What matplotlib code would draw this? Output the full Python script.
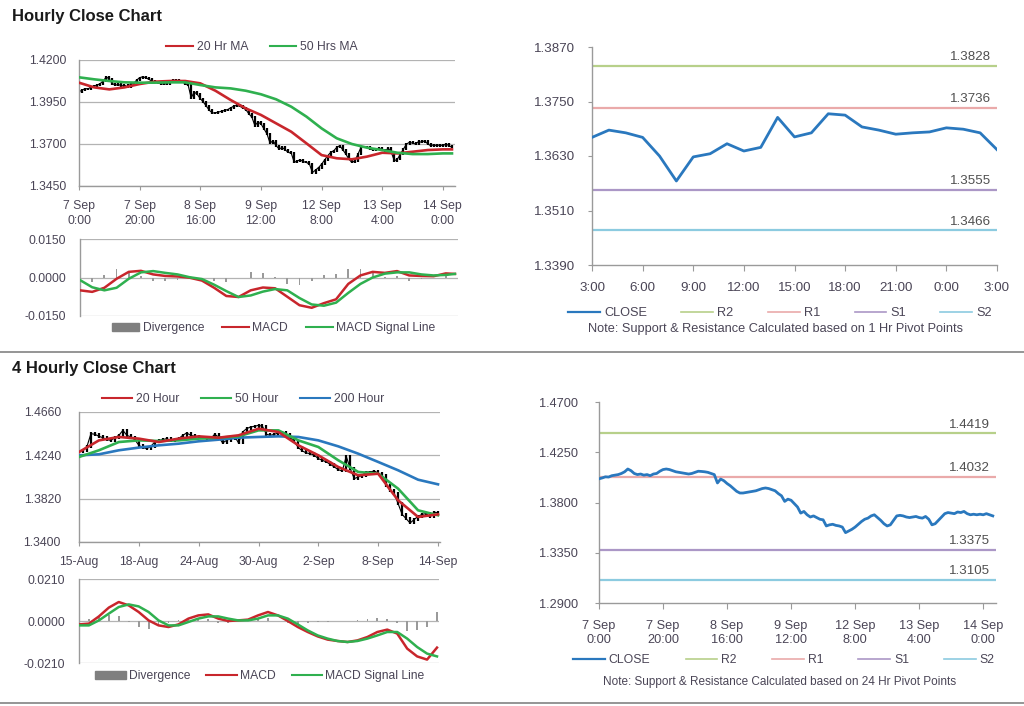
import numpy as np
import matplotlib
matplotlib.use("Agg")
import matplotlib.pyplot as plt
from matplotlib.lines import Line2D
from matplotlib.patches import Patch
from matplotlib.transforms import blended_transform_factory

# --------------------------
# Data: hourly chart (bars 0..123, one per hour)
# --------------------------
hourly_close = [
    1.4012, 1.4020, 1.4030, 1.4028, 1.4040,
    1.4045, 1.4050, 1.4060, 1.4075, 1.4100,
    1.4085, 1.4060, 1.4050, 1.4055, 1.4045,
    1.4050, 1.4040, 1.4055, 1.4060, 1.4080,
    1.4095, 1.4100, 1.4095, 1.4085, 1.4075,
    1.4070, 1.4065, 1.4060, 1.4055, 1.4060,
    1.4070, 1.4080, 1.4078, 1.4075, 1.4070,
    1.4060, 1.4050, 1.3975, 1.4010, 1.3995,
    1.3970, 1.3950, 1.3925, 1.3900, 1.3885,
    1.3885, 1.3890, 1.3895, 1.3900, 1.3905,
    1.3915, 1.3925, 1.3930, 1.3925, 1.3915,
    1.3905, 1.3880, 1.3860, 1.3810, 1.3830,
    1.3820, 1.3790, 1.3760, 1.3705, 1.3720,
    1.3690, 1.3670, 1.3680, 1.3665, 1.3650,
    1.3645, 1.3590, 1.3600, 1.3605, 1.3595,
    1.3590, 1.3580, 1.3530, 1.3545, 1.3560,
    1.3580, 1.3605, 1.3630, 1.3650, 1.3660,
    1.3680, 1.3690, 1.3665, 1.3640, 1.3610,
    1.3590, 1.3600, 1.3640, 1.3680, 1.3685,
    1.3680, 1.3670, 1.3665, 1.3670, 1.3675,
    1.3665, 1.3660, 1.3675, 1.3650, 1.3600,
    1.3610, 1.3640, 1.3670, 1.3700, 1.3710,
    1.3705, 1.3700, 1.3715, 1.3710, 1.3720,
    1.3700, 1.3690, 1.3695, 1.3690, 1.3695,
    1.3690, 1.3700, 1.3690, 1.3680,
]

hourly_ma_bars = [0, 5, 10, 15, 20, 25, 30, 35, 40, 45, 50, 55, 60, 65,
                  70, 75, 80, 85, 90, 95, 100, 105, 110, 115, 120, 123]
hourly_ma20 = [1.4065, 1.4037, 1.4025, 1.4037, 1.4057, 1.4071, 1.4075, 1.4075,
               1.4061, 1.4017, 1.3962, 1.3912, 1.3873, 1.3823, 1.3773, 1.3704,
               1.3634, 1.3615, 1.3609, 1.3625, 1.3648, 1.3644, 1.3654, 1.3664,
               1.3668, 1.3668]
hourly_ma50 = [1.4097, 1.4085, 1.4075, 1.4067, 1.4065, 1.4065, 1.4067, 1.4067,
               1.4051, 1.4037, 1.4031, 1.4017, 1.3996, 1.3966, 1.3922, 1.3863,
               1.3793, 1.3734, 1.3700, 1.3678, 1.3664, 1.3648, 1.3640, 1.3640,
               1.3644, 1.3644]

hourly_macd_bars = [0, 4, 8, 12, 16, 20, 24, 28, 32, 36, 40, 44, 48, 52, 56, 60,
                    64, 68, 72, 76, 80, 84, 88, 92, 96, 100, 104, 108, 112, 116,
                    120, 123]
hourly_macd = [-0.0050, -0.0056, -0.0040, -0.0005, 0.0022, 0.0026, 0.0012, 0.0006,
               0.0004, -0.0001, -0.0012, -0.0040, -0.0072, -0.0076, -0.0050, -0.0039,
               -0.0042, -0.0075, -0.0108, -0.0118, -0.0100, -0.0085, -0.0025, 0.0008,
               0.0022, 0.0018, 0.0025, 0.0008, 0.0006, 0.0005, 0.0016, 0.0014]
hourly_signal = [-0.0010, -0.0038, -0.0050, -0.0040, -0.0005, 0.0020, 0.0025, 0.0018,
                 0.0012, 0.0001, -0.0006, -0.0028, -0.0053, -0.0076, -0.0070, -0.0055,
                 -0.0045, -0.0050, -0.0080, -0.0105, -0.0110, -0.0098, -0.0060, -0.0025,
                 0.0000, 0.0015, 0.0020, 0.0020, 0.0012, 0.0008, 0.0010, 0.0014]

hourly_tick_labels = ["7 Sep\n0:00", "7 Sep\n20:00", "8 Sep\n16:00", "9 Sep\n12:00",
                      "12 Sep\n8:00", "13 Sep\n4:00", "14 Sep\n0:00"]

# --------------------------
# Data: 1 hr pivot chart (3:00 .. 3:00)
# --------------------------
pivot_hour_labels = ["3:00", "6:00", "9:00", "12:00", "15:00", "18:00", "21:00", "0:00", "3:00"]
pivot_close = [1.3671, 1.3687, 1.3681, 1.3671, 1.3630, 1.3575, 1.3628, 1.3635,
               1.3657, 1.3641, 1.3649, 1.3715, 1.3672, 1.3681, 1.3723, 1.3720,
               1.3694, 1.3687, 1.3678, 1.3681, 1.3683, 1.3692, 1.3689, 1.3681,
               1.3644]
level_names = ["R2", "R1", "S1", "S2"]
levels_1h = [1.3828, 1.3736, 1.3555, 1.3466]
levels_24h = [1.4419, 1.4032, 1.3375, 1.3105]

# --------------------------
# Data: 4 hourly chart (bars 0..180, close read every 2nd bar)
# --------------------------
fourh_close = [
    1.4272, 1.4289, 1.4327, 1.4450, 1.4444, 1.4424, 1.4411, 1.4392, 1.4385, 1.4411,
    1.4434, 1.4482, 1.4434, 1.4418, 1.4392, 1.4337, 1.4315, 1.4305, 1.4327, 1.4369,
    1.4385, 1.4392, 1.4402, 1.4385, 1.4392, 1.4402, 1.4434, 1.4457, 1.4434, 1.4424,
    1.4418, 1.4411, 1.4402, 1.4402, 1.4444, 1.4418, 1.4360, 1.4385, 1.4402, 1.4424,
    1.4360, 1.4466, 1.4498, 1.4515, 1.4521, 1.4531, 1.4521, 1.4444, 1.4434, 1.4444,
    1.4457, 1.4466, 1.4444, 1.4411, 1.4369, 1.4315, 1.4282, 1.4263, 1.4256, 1.4240,
    1.4208, 1.4192, 1.4176, 1.4153, 1.4127, 1.4101, 1.4088, 1.4230, 1.4111, 1.4014,
    1.4030, 1.4046, 1.4079, 1.4079, 1.4088, 1.4069, 1.4046, 1.3949, 1.3901, 1.3869,
    1.3772, 1.3668, 1.3626, 1.3584, 1.3617, 1.3649, 1.3668, 1.3675, 1.3643, 1.3691,
    1.3681,
]

fourh_ma_bars = [0, 10, 20, 30, 40, 50, 60, 70, 80, 90, 100, 110, 120, 130, 140, 150, 160, 170, 180]
fourh_ma20 = [1.4272, 1.4385, 1.4418, 1.4402, 1.4369, 1.4402, 1.4424, 1.4411, 1.4434, 1.4498,
              1.4466, 1.4337, 1.4240, 1.4127, 1.4046, 1.4062, 1.3804, 1.3643, 1.3668]
fourh_ma50 = [1.4224, 1.4289, 1.4369, 1.4385, 1.4379, 1.4385, 1.4402, 1.4411, 1.4424, 1.4482,
              1.4482, 1.4385, 1.4321, 1.4192, 1.4079, 1.4062, 1.3917, 1.3707, 1.3659]
fourh_ma200 = [1.4240, 1.4250, 1.4289, 1.4315, 1.4337, 1.4353, 1.4376, 1.4392, 1.4411, 1.4418,
               1.4424, 1.4418, 1.4385, 1.4327, 1.4256, 1.4176, 1.4095, 1.4004, 1.3959]

fourh_macd_bars = list(range(0, 181, 5))
fourh_macd = [-0.0017, -0.0013, 0.0023, 0.0067, 0.0095, 0.0078, 0.0045, 0.0003, -0.0022, -0.0030,
              -0.0017, 0.0012, 0.0028, 0.0033, 0.0012, 0.0000, 0.0003, 0.0007, 0.0028, 0.0045,
              0.0028, 0.0000, -0.0030, -0.0055, -0.0077, -0.0093, -0.0100, -0.0105, -0.0097, -0.0080,
              -0.0055, -0.0043, -0.0063, -0.0138, -0.0177, -0.0193, -0.0133]
fourh_signal = [-0.0022, -0.0022, 0.0003, 0.0037, 0.0070, 0.0083, 0.0073, 0.0045, 0.0003, -0.0022,
                -0.0022, -0.0005, 0.0012, 0.0023, 0.0023, 0.0012, 0.0003, 0.0003, 0.0012, 0.0028,
                0.0028, 0.0012, -0.0017, -0.0047, -0.0072, -0.0088, -0.0100, -0.0105, -0.0100, -0.0088,
                -0.0072, -0.0055, -0.0055, -0.0088, -0.0130, -0.0163, -0.0177]

fourh_tick_labels = ["15-Aug", "18-Aug", "24-Aug", "30-Aug", "2-Sep", "8-Sep", "14-Sep"]

# --------------------------
# Style
# --------------------------
W, H = 1024, 706
RED = "#c8262c"
GREEN = "#2fb04f"
BLUE = "#2a78be"
DIV_GREY = "#9a9a9a"
AXIS_GREY = "#9a9a9a"
GRID_GREY = "#b3b3b3"
TXT = "#4a4556"
LEVEL_COLORS = ["#b7d08a", "#eaaaaa", "#ab97c6", "#8ccbe0"]
FS = 8.8
LEG_FS = 8.7

plt.rcParams["font.family"] = ["Liberation Sans", "DejaVu Sans"]

fig = plt.figure(figsize=(W / 100, H / 100), dpi=100)


def px_axes(left, top, right, bottom):
    return fig.add_axes([left / W, 1 - bottom / H, (right - left) / W, (bottom - top) / H])


def style_axes(ax, grid=True, ytick_len=0, ypad=9, xpad=5, fs=FS):
    for side in ["top", "right"]:
        ax.spines[side].set_visible(False)
    for side in ["left", "bottom"]:
        ax.spines[side].set_color(AXIS_GREY)
        ax.spines[side].set_linewidth(1.0)
    ax.tick_params(axis="y", length=ytick_len, pad=ypad, labelsize=fs, colors=TXT, color=AXIS_GREY)
    ax.tick_params(axis="x", length=3, pad=xpad, labelsize=fs, colors=TXT, color=AXIS_GREY)
    if grid:
        ax.yaxis.grid(True, color=GRID_GREY, lw=0.9)
        ax.set_axisbelow(True)


def draw_bars(ax, x, close, ext):
    # vertical open->close bars (open = previous close)
    x = np.asarray(x)
    c = np.asarray(close)
    prev = np.concatenate([[c[0]], c[:-1]])
    ax.vlines(x, np.minimum(prev, c) - ext, np.maximum(prev, c) + ext,
              color="black", lw=1.6, zorder=2)
    ax.plot(x, c, color="black", lw=0.8, zorder=2)


def macd_panel(ax, x, macd, signal, lim, xmax, width):
    macd = np.asarray(macd)
    signal = np.asarray(signal)
    ax.bar(x, macd - signal, width=width, color=DIV_GREY, zorder=2)
    ax.plot(x, macd, color=RED, lw=1.8, zorder=3)
    ax.plot(x, signal, color=GREEN, lw=1.8, zorder=3)
    ax.set_xlim(0, xmax)
    ax.set_ylim(-lim, lim)
    ax.set_yticks([lim, 0, -lim])
    ax.set_yticklabels([f"{v:.4f}" for v in [lim, 0.0, -lim]])
    ax.set_xticks([])
    ax.spines["bottom"].set_visible(False)


def levels_chart(ax, x, close, levels):
    for lv, col in zip(levels, LEVEL_COLORS):
        ax.axhline(lv, color=col, lw=1.6, zorder=1)
        ax.annotate(f"{lv:.4f}", xy=(0.985, lv), xycoords=blended_transform_factory(ax.transAxes, ax.transData),
                    xytext=(0, 2), textcoords="offset points", ha="right", va="bottom",
                    fontsize=9.6, color="#505050")
    ax.plot(x, close, color=BLUE, lw=2.0, zorder=3)


macd_handles = [Patch(color="#7f7f7f"), Line2D([], [], color=RED, lw=1.5),
                Line2D([], [], color=GREEN, lw=1.5)]
macd_labels = ["Divergence", "MACD", "MACD Signal Line"]
level_handles = [Line2D([], [], color=BLUE, lw=1.6)] + [Line2D([], [], color=c, lw=1.2) for c in LEVEL_COLORS]
level_labels = ["CLOSE"] + level_names


def fig_legend(handles, labels, cx, cy, colsp=1.6, hl=2.2, fs=LEG_FS):
    fig.legend(handles, labels, loc="center", bbox_to_anchor=(cx / W, 1 - cy / H), ncol=len(labels),
               frameon=False, fontsize=fs, columnspacing=colsp, handlelength=hl,
               handletextpad=0.3, labelcolor=TXT)


# --------------------------
# Hourly close chart (top left)
# --------------------------
ax1 = px_axes(79, 60, 455, 186)
style_axes(ax1, ypad=9)
hourly_bars = np.arange(len(hourly_close))
draw_bars(ax1, hourly_bars, hourly_close, 0.0006)
ax1.plot(hourly_ma_bars, hourly_ma20, color=RED, lw=1.9, zorder=3)
ax1.plot(hourly_ma_bars, hourly_ma50, color=GREEN, lw=1.9, zorder=3)
ax1.set_xlim(0, 124)
ax1.set_ylim(1.345, 1.42)
ax1.set_yticks([1.42, 1.395, 1.37, 1.345])
ax1.set_yticklabels([f"{v:.4f}" for v in [1.42, 1.395, 1.37, 1.345]])
ax1.set_xticks(range(0, 121, 20))
ax1.set_xticklabels(hourly_tick_labels, linespacing=1.3)
ax1.tick_params(axis="x", pad=7)
fig_legend([Line2D([], [], color=RED, lw=1.5), Line2D([], [], color=GREEN, lw=1.5)],
           ["20 Hr MA", "50 Hrs MA"], 262, 47, colsp=1.8)

ax2 = px_axes(80, 239, 458, 316)
style_axes(ax2, ypad=10)
macd_panel(ax2, hourly_macd_bars, hourly_macd, hourly_signal, 0.015, 124, 0.6)
fig_legend(macd_handles, macd_labels, 274, 328, colsp=1.5)

# --------------------------
# 1 hr pivot chart (top right)
# --------------------------
ax3 = px_axes(592, 47, 997, 265)
style_axes(ax3, grid=False, ytick_len=3, ypad=9, xpad=8, fs=9.6)
levels_chart(ax3, np.arange(len(pivot_close)), pivot_close, levels_1h)
ax3.set_xlim(0, 24)
ax3.set_ylim(1.339, 1.387)
ax3.set_yticks([1.387, 1.375, 1.363, 1.351, 1.339])
ax3.set_yticklabels([f"{v:.4f}" for v in [1.387, 1.375, 1.363, 1.351, 1.339]])
ax3.set_xticks(range(0, 25, 3))
ax3.set_xticklabels(pivot_hour_labels)
ax3.tick_params(axis="x", length=4)
fig_legend(level_handles, level_labels, 780, 313, colsp=2.7, hl=2.5, fs=9.2)
fig.text(775 / W, 1 - 329 / H, "Note: Support & Resistance Calculated based on 1 Hr Pivot Points",
         ha="center", va="center", fontsize=9.2, color=TXT)

# --------------------------
# 4 hourly close chart (bottom left)
# --------------------------
ax4 = px_axes(79, 412, 440, 542)
style_axes(ax4, ypad=13)
draw_bars(ax4, np.arange(0, 181, 2), fourh_close, 0.0012)
ax4.plot(fourh_ma_bars, fourh_ma200, color=BLUE, lw=1.9, zorder=3)
ax4.plot(fourh_ma_bars, fourh_ma50, color=GREEN, lw=1.9, zorder=3)
ax4.plot(fourh_ma_bars, fourh_ma20, color=RED, lw=1.9, zorder=3)
ax4.set_xlim(0, 181)
ax4.set_ylim(1.34, 1.466)
ax4.set_yticks([1.466, 1.424, 1.382, 1.34])
ax4.set_yticklabels([f"{v:.4f}" for v in [1.466, 1.424, 1.382, 1.34]])
ax4.set_xticks(range(0, 181, 30))
ax4.set_xticklabels(fourh_tick_labels)
ax4.tick_params(axis="x", pad=7)
fig_legend([Line2D([], [], color=RED, lw=1.5), Line2D([], [], color=GREEN, lw=1.5),
            Line2D([], [], color=BLUE, lw=1.5)],
           ["20 Hour", "50 Hour", "200 Hour"], 243, 399, colsp=1.8, hl=2.5)

ax5 = px_axes(79, 579, 439, 663)
style_axes(ax5, ypad=10)
macd_panel(ax5, fourh_macd_bars, fourh_macd, fourh_signal, 0.021, 181, 0.9)
fig_legend(macd_handles, macd_labels, 260, 676, colsp=1.3, hl=2.5)

# --------------------------
# 24 hr pivot chart (bottom right)
# --------------------------
ax6 = px_axes(599, 402, 996, 603)
style_axes(ax6, grid=False, ytick_len=3, ypad=12, xpad=8, fs=9.2)
levels_chart(ax6, hourly_bars, hourly_close, levels_24h)
ax6.set_xlim(0, 124)
ax6.set_ylim(1.29, 1.47)
ax6.set_yticks([1.47, 1.425, 1.38, 1.335, 1.29])
ax6.set_yticklabels([f"{v:.4f}" for v in [1.47, 1.425, 1.38, 1.335, 1.29]])
ax6.set_xticks(range(0, 121, 20))
ax6.set_xticklabels(hourly_tick_labels, linespacing=1.3)
ax6.tick_params(axis="x", length=4)
fig_legend(level_handles, level_labels, 784, 660, colsp=2.9, hl=2.6, fs=8.8)
fig.text(780 / W, 1 - 682 / H, "Note: Support & Resistance Calculated based on 24 Hr Pivot Points",
         ha="center", va="center", fontsize=8.5, color=TXT)

# --------------------------
# Section titles and separators
# --------------------------
fig.text(12 / W, 1 - 16 / H, "Hourly Close Chart", ha="left", va="center",
         fontsize=12, fontweight="bold", color="#1a1a1a")
fig.text(12 / W, 1 - 369 / H, "4 Hourly Close Chart", ha="left", va="center",
         fontsize=12, fontweight="bold", color="#1a1a1a")
for y in [352, 703]:
    fig.add_artist(Line2D([0, 1], [1 - y / H, 1 - y / H], transform=fig.transFigure,
                          color="#8c8c8c", lw=1.3))

fig.savefig("out.png", dpi=100)
